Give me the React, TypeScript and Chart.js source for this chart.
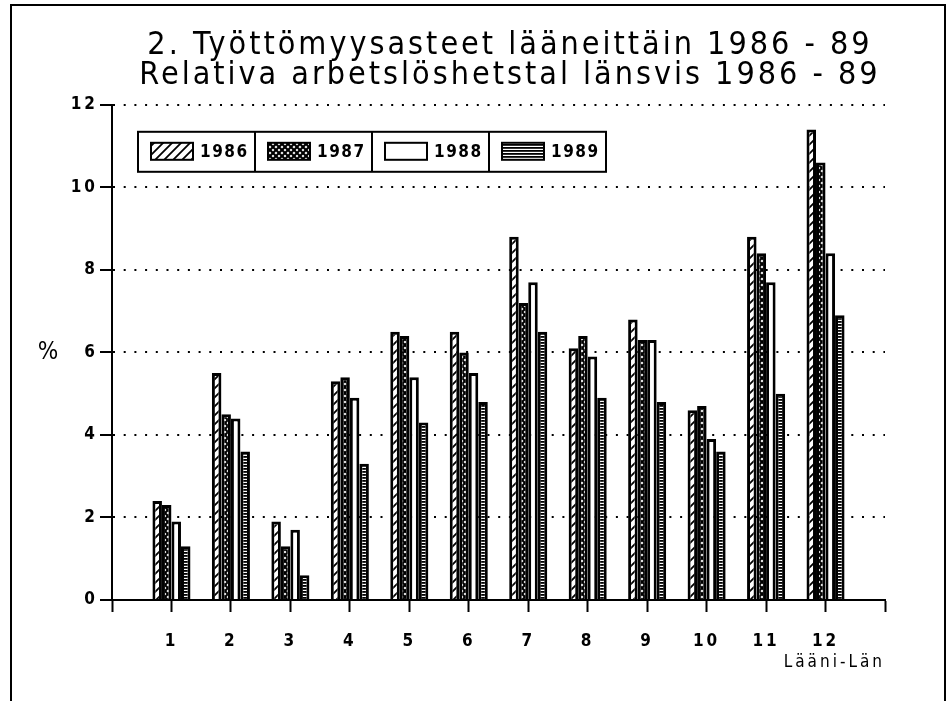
import React, { useEffect, useRef } from 'react';
import { Chart, registerables } from 'chart.js';

Chart.register(...registerables);

// ---- data ----
const TITLE_LINES = [
  '2. Työttömyysasteet lääneittäin 1986 - 89',
  'Relativa arbetslöshetstal länsvis 1986 - 89',
];
const X_TITLE = 'Lääni-Län';
const Y_TITLE = '%';
const CATEGORIES = ['1', '2', '3', '4', '5', '6', '7', '8', '9', '10', '11', '12'];
const YEARS = ['1986', '1987', '1988', '1989'];
const V1986 = [2.4, 5.5, 1.9, 5.3, 6.5, 6.5, 8.8, 6.1, 6.8, 4.6, 8.8, 11.4];
const V1987 = [2.3, 4.5, 1.3, 5.4, 6.4, 6.0, 7.2, 6.4, 6.3, 4.7, 8.4, 10.6];
const V1988 = [1.9, 4.4, 1.7, 4.9, 5.4, 5.5, 7.7, 5.9, 6.3, 3.9, 7.7, 8.4];
const V1989 = [1.3, 3.6, 0.6, 3.3, 4.3, 4.8, 6.5, 4.9, 4.8, 3.6, 5.0, 6.9];
const Y_MIN = 0;
const Y_MAX = 12;
const Y_STEP = 2;

const FONT = "'DejaVu Sans Condensed', 'DejaVu Sans', sans-serif";

function makePattern(kind: string): CanvasPattern | string {
  const c = document.createElement('canvas');
  const g = c.getContext('2d')!;
  if (kind === 'diag') {
    const s = 9;
    c.width = s; c.height = s;
    g.fillStyle = '#fff'; g.fillRect(0, 0, s, s);
    g.strokeStyle = '#000'; g.lineWidth = 1.8;
    g.beginPath();
    g.moveTo(0, s); g.lineTo(s, 0);
    g.moveTo(-2, 2); g.lineTo(2, -2);
    g.moveTo(s - 2, s + 2); g.lineTo(s + 2, s - 2);
    g.stroke();
  } else if (kind === 'cross') {
    const s = 6;
    c.width = s; c.height = s;
    g.fillStyle = '#fff'; g.fillRect(0, 0, s, s);
    g.strokeStyle = '#000'; g.lineWidth = 2.2;
    g.beginPath();
    g.moveTo(0, s); g.lineTo(s, 0);
    g.moveTo(0, 0); g.lineTo(s, s);
    g.moveTo(-2, 2); g.lineTo(2, -2);
    g.moveTo(s - 2, s + 2); g.lineTo(s + 2, s - 2);
    g.moveTo(-2, s - 2); g.lineTo(2, s + 2);
    g.moveTo(s - 2, -2); g.lineTo(s + 2, 2);
    g.stroke();
  } else if (kind === 'hlines') {
    c.width = 4; c.height = 3;
    g.fillStyle = '#fff'; g.fillRect(0, 0, 4, 3);
    g.fillStyle = '#000'; g.fillRect(0, 0, 4, 1.8);
  } else {
    return '#ffffff';
  }
  return g.createPattern(c, 'repeat')!;
}

const letterSpacingPlugin = {
  id: 'letterSpacing',
  beforeDraw(chart: any) {
    (chart.ctx as any).letterSpacing = '3px';
  },
};

const framePlugin = {
  id: 'frame',
  afterDraw(chart: any) {
    const ctx = chart.ctx as CanvasRenderingContext2D;
    ctx.save();
    ctx.strokeStyle = '#000';
    ctx.lineWidth = 2;
    ctx.strokeRect(11, 5, 934, 700);
    // y axis title (horizontal)
    (ctx as any).letterSpacing = '0px';
    ctx.fillStyle = '#000';
    ctx.font = `24px ${FONT}`;
    ctx.textAlign = 'center';
    ctx.textBaseline = 'middle';
    const ys = chart.scales.y;
    ctx.fillText(Y_TITLE, 48, ys.getPixelForValue(6));
    ctx.restore();
  },
};

const boxLegendPlugin = {
  id: 'boxLegend',
  afterDraw(chart: any) {
    const ctx = chart.ctx as CanvasRenderingContext2D;
    const area = chart.chartArea;
    const x0 = area.left + 26;
    const y0 = area.top + 27;
    const cellW = 117;
    const h = 40;
    const ds = chart.data.datasets;
    ctx.save();
    ctx.fillStyle = '#fff';
    ctx.fillRect(x0, y0, cellW * ds.length, h);
    ctx.strokeStyle = '#000';
    ctx.lineWidth = 2;
    ctx.strokeRect(x0, y0, cellW * ds.length, h);
    ctx.font = `bold 17px ${FONT}`;
    (ctx as any).letterSpacing = '1.5px';
    ctx.textBaseline = 'middle';
    ctx.textAlign = 'left';
    ds.forEach((d: any, i: number) => {
      const cx = x0 + i * cellW;
      if (i > 0) {
        ctx.beginPath();
        ctx.moveTo(cx, y0);
        ctx.lineTo(cx, y0 + h);
        ctx.stroke();
      }
      ctx.fillStyle = d.backgroundColor;
      ctx.fillRect(cx + 13, y0 + 11, 42, 17);
      ctx.strokeRect(cx + 13, y0 + 11, 42, 17);
      ctx.fillStyle = '#000';
      ctx.fillText(d.label, cx + 62, y0 + h / 2 + 1);
    });
    ctx.restore();
  },
};

export default function App() {
  const ref = useRef<HTMLCanvasElement>(null);
  useEffect(() => {
    document.body.style.margin = '0';
    const patterns = [makePattern('diag'), makePattern('cross'), makePattern('none'), makePattern('hlines')];
    const series = [V1986, V1987, V1988, V1989];
    const labels = ['', ...CATEGORIES, ''];
    const chart = new Chart(ref.current!, {
      type: 'bar',
      data: {
        labels,
        datasets: YEARS.map((y, i) => ({
          label: y,
          data: [null, ...series[i], null],
          backgroundColor: patterns[i] as any,
          borderColor: '#000',
          borderWidth: 3,
          borderSkipped: 'bottom',
          categoryPercentage: 0.64,
          barPercentage: 1.0,
        })),
      },
      options: {
        animation: false,
        responsive: false,
        devicePixelRatio: 1,
        layout: { padding: { left: 71, right: 0, top: 0, bottom: 21 } },
        plugins: {
          legend: { display: false },
          tooltip: { enabled: false },
          title: {
            display: true,
            text: TITLE_LINES,
            color: '#000',
            font: { family: FONT, size: 32, weight: 'normal', lineHeight: 0.95 },
            padding: { top: 30, bottom: 14 },
          },
        },
        scales: {
          x: {
            type: 'category',
            offset: false,
            grid: {
              display: true,
              offset: false,
              drawOnChartArea: false,
              drawTicks: true,
              tickLength: 12,
              tickColor: '#000',
              tickWidth: 2,
            },
            border: { display: true, color: '#000', width: 2 },
            ticks: {
              color: '#000',
              font: { family: FONT, size: 17, weight: 'bold' },
              padding: 19,
              maxRotation: 0,
              autoSkip: false,
            },
            title: {
              display: true,
              text: X_TITLE,
              align: 'end',
              color: '#000',
              font: { family: FONT, size: 17 },
              padding: { top: 0, bottom: 7 },
            },
            afterFit: (s: any) => { s.height = 80; },
          },
          y: {
            min: Y_MIN,
            max: Y_MAX,
            ticks: {
              stepSize: Y_STEP,
              color: '#000',
              font: { family: FONT, size: 17, weight: 'bold' },
              padding: 2,
            },
            grid: {
              color: '#000',
              lineWidth: 2,
              drawTicks: true,
              tickLength: 12,
              tickColor: '#000',
              tickWidth: 2,
              tickBorderDash: [],
            },
            border: { display: true, color: '#000', width: 2, dash: [2, 8.7] },
            afterFit: (s: any) => { s.width = 41; },
          },
          yRight: {
            type: 'linear',
            position: 'right',
            display: true,
            grid: { display: false, drawTicks: false },
            border: { display: false },
            ticks: { display: false },
            afterFit: (s: any) => { s.width = 64; },
          },
        },
      },
      plugins: [letterSpacingPlugin, boxLegendPlugin, framePlugin],
    } as any);
    return () => chart.destroy();
  }, []);
  return (
    <div style={{ width: 949, height: 701 }}>
      <canvas ref={ref} width={949} height={701} style={{ display: 'block' }} />
    </div>
  );
}
